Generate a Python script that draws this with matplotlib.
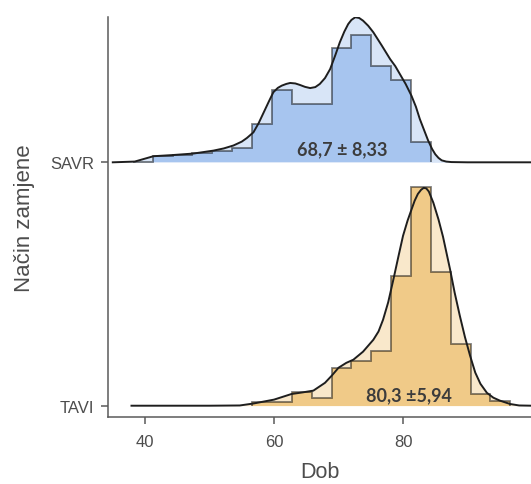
import matplotlib
matplotlib.use("Agg")
import matplotlib.pyplot as plt
import numpy as np

# ---- data (heights in ridge-row units) ----
groups = ["TAVI", "SAVR"]
baselines = [1, 2]

savr_bin_edges = [38.12, 41.2, 44.28, 47.36, 50.44, 53.52, 56.6, 59.68, 62.76,
                  65.84, 68.92, 72.0, 75.08, 78.16, 81.24, 84.32]
savr_hist = [0.003, 0.026, 0.028, 0.037, 0.048, 0.058, 0.157, 0.299, 0.240,
             0.240, 0.468, 0.523, 0.397, 0.340, 0.085]

tavi_bin_edges = [56.6, 59.68, 62.76, 65.84, 68.92, 72.0, 75.08, 78.16, 81.24,
                  84.32, 87.4, 90.48, 93.56, 96.64]
tavi_hist = [0.014, 0.014, 0.058, 0.030, 0.155, 0.182, 0.223, 0.531, 0.898,
             0.548, 0.253, 0.048, 0.018]

savr_dens_x = [35.0, 38.4, 41.3, 44.4, 47.5, 50.6, 52.2, 53.7, 55.0, 55.8, 56.8,
               57.6, 58.4, 59.2, 59.9, 60.6, 61.2, 61.9, 62.5, 63.3, 64.0, 64.8,
               65.6, 66.4, 67.1, 67.9, 68.7, 69.5, 70.2, 70.9, 71.5, 72.0, 72.6,
               73.2, 73.8, 74.6, 75.4, 76.7, 78.0, 78.8, 79.5, 80.4, 81.3, 82.0,
               82.6, 83.3, 83.9, 84.5, 85.0, 85.5, 86.0, 86.7, 87.5, 90.0, 100.0]
savr_dens_y = [0.0, 0.003, 0.025, 0.030, 0.036, 0.048, 0.057, 0.069, 0.085, 0.100,
               0.123, 0.160, 0.205, 0.250, 0.288, 0.306, 0.315, 0.322, 0.326,
               0.324, 0.318, 0.310, 0.305, 0.309, 0.322, 0.346, 0.383, 0.440,
               0.493, 0.537, 0.568, 0.585, 0.596, 0.593, 0.582, 0.561, 0.534,
               0.480, 0.424, 0.395, 0.363, 0.322, 0.274, 0.228, 0.178, 0.130,
               0.089, 0.055, 0.033, 0.018, 0.008, 0.003, 0.001, 0.0, 0.0]

tavi_dens_x = [37.9, 50.0, 54.7, 56.8, 60.0, 62.7, 64.5, 66.1, 67.9, 69.0, 70.0,
               71.2, 72.3, 73.8, 75.4, 76.2, 76.9, 77.7, 78.5, 79.3, 80.0, 80.7,
               81.3, 81.8, 82.3, 82.8, 83.2, 83.6, 84.0, 84.7, 85.5, 86.2, 87.3,
               88.0, 88.8, 89.6, 90.4, 91.2, 92.0, 93.0, 94.0, 95.0, 96.6, 98.0,
               100.0]
tavi_dens_y = [0.0, 0.0, 0.001, 0.009, 0.025, 0.048, 0.055, 0.062, 0.094, 0.125,
               0.156, 0.176, 0.189, 0.222, 0.271, 0.305, 0.353, 0.425, 0.518,
               0.615, 0.698, 0.760, 0.805, 0.842, 0.870, 0.887, 0.895, 0.893,
               0.880, 0.834, 0.765, 0.694, 0.559, 0.465, 0.370, 0.282, 0.205,
               0.136, 0.090, 0.053, 0.033, 0.021, 0.007, 0.001, 0.0]

labels_text = ["80,3 \u00b15,94", "68,7 \u00b1 8,33"]
label_x = [80.9, 70.6]
label_dy = [0.045, 0.055]

xticks = [40, 60, 80]

bar_colors = ["#f0ca88", "#a7c5ef"]
dens_colors = ["#f9e8cb", "#d8e5f7"]

# ---- figure ----
fig = plt.figure(figsize=(5.31, 4.85), dpi=100)
ax = fig.add_axes([108 / 531, 67 / 485, 423 / 531, 400 / 485])

series = [
    (tavi_bin_edges, tavi_hist, tavi_dens_x, tavi_dens_y),
    (savr_bin_edges, savr_hist, savr_dens_x, savr_dens_y),
]

for i, (edges, hist, dx, dy) in enumerate(series):
    b = baselines[i]
    dx = np.asarray(dx)
    dy = np.asarray(dy)
    ax.fill_between(dx, b, b + dy, color=dens_colors[i], lw=0, zorder=1)
    ax.stairs(np.asarray(hist) + b, edges, baseline=b, fill=True,
              color=bar_colors[i], lw=0, zorder=2)
    ax.stairs(np.asarray(hist) + b, edges, baseline=b, fill=False,
              edgecolor=(0, 0, 0, 0.5), lw=1.3, zorder=3)
    ax.plot(dx, b + dy, color="#1e1e1e", lw=1.4, zorder=4,
            solid_joinstyle="round")
    ax.text(label_x[i], b + label_dy[i], labels_text[i], ha="center",
            va="center", fontsize=13, fontweight="bold", family="Lato",
            color="#3c3c3c", zorder=5)

ax.set_xlim(34.26, 99.84)
ax.set_ylim(0.9536, 2.597)

for s in ["top", "right"]:
    ax.spines[s].set_visible(False)
for s in ["left", "bottom"]:
    ax.spines[s].set_color("#5a5a5a")
    ax.spines[s].set_linewidth(1.1)

ax.set_xticks(xticks)
ax.set_xticklabels([str(t) for t in xticks])
ax.set_yticks(baselines)
ax.set_yticklabels(groups)
ax.tick_params(axis="both", colors="#5a5a5a", length=5, width=1.1,
               labelsize=12, labelcolor="#4d4d4d", pad=5)
ax.tick_params(axis="x", pad=7)
for lab in ax.get_xticklabels() + ax.get_yticklabels():
    lab.set_family("Liberation Sans")

ax.set_xlabel("Dob", fontsize=15.5, color="#4d4d4d", family="Liberation Sans",
              labelpad=9)
ax.set_ylabel("Na\u010din zamjene", fontsize=16, color="#4d4d4d",
              family="Liberation Sans", labelpad=11)

fig.savefig("out.png", dpi=100)
